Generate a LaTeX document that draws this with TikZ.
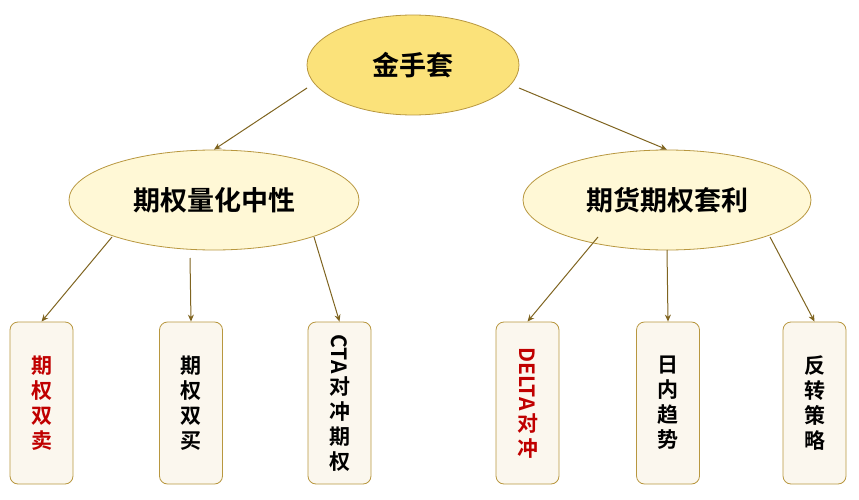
\documentclass[tikz,border=0pt]{standalone}
\usepackage{fontspec}
\setmainfont{Noto Sans CJK SC}[BoldFont={* Bold}]
\usetikzlibrary{shapes.geometric,arrows.meta}
\definecolor{gold}{HTML}{FBE27A}
\definecolor{cream}{HTML}{FFF8D6}
\definecolor{boxf}{HTML}{FBF7EE}
\definecolor{edge}{HTML}{B8973F}
\definecolor{ln}{HTML}{7F6420}
\definecolor{dred}{HTML}{C00000}
\begin{document}
\begin{tikzpicture}[x=1pt,y=-1pt,
  ell/.style={ellipse,draw=edge,line width=0.8pt,inner sep=0pt,font=\bfseries\fontsize{27}{30}\selectfont},
  leaf/.style={draw=edge,fill=boxf,rounded corners=8pt,line width=0.8pt,minimum width=63pt,minimum height=162pt,inner sep=0pt,font=\bfseries\fontsize{21}{25}\selectfont,align=center},
  arr/.style={draw=ln,line width=1pt,-{Stealth[length=7pt,width=6pt]}}]
\useasboundingbox (0,0) rectangle (859,500);
\node[ell,fill=gold,minimum width=212pt,minimum height=100pt] (top) at (413,65) {金手套};
\node[ell,fill=cream,minimum width=290pt,minimum height=100pt] (L) at (214,200) {期权量化中性};
\node[ell,fill=cream,minimum width=288pt,minimum height=100pt] (R) at (667,200) {期货期权套利};
\node[leaf,text=dred] (b1) at (41.5,403) {期\\权\\双\\卖};
\node[leaf] (b2) at (191,403) {期\\权\\双\\买};
\node[leaf] (b3) at (339.5,403) {\rotatebox{-90}{CTA}\\[2pt]对\\冲\\期\\权};
\node[leaf,text=dred] (b4) at (527.5,403) {\rotatebox{-90}{DELTA}\\[2pt]对\\冲};
\node[leaf] (b5) at (668,403) {日\\内\\趋\\势};
\node[leaf] (b6) at (814.5,403) {反\\转\\策\\略};
\coordinate (t1) at (307,88); \coordinate (t2) at (519,88);
\draw[arr] (t1) -- (L.north);
\draw[arr] (t2) -- (R.north);
\coordinate (l1) at (112,237); \coordinate (l2) at (190,258);\coordinate (l3) at (314,237);
\coordinate (r1) at (598,237); \coordinate (r2) at (667,250);\coordinate (r3) at (770,237);
\draw[arr] (l1) -- (b1.north);
\draw[arr] (l2) -- (b2.north);
\draw[arr] (l3) -- (b3.north);
\draw[arr] (r1) -- (b4.north);
\draw[arr] (r2) -- (b5.north);
\draw[arr] (r3) -- (b6.north);
\end{tikzpicture}
\end{document}
